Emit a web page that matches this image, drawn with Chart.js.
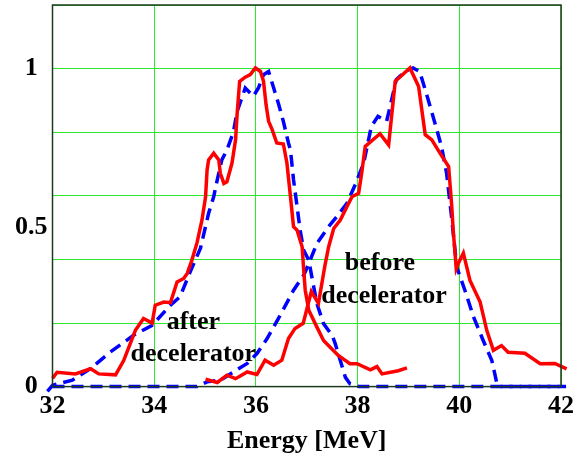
<!DOCTYPE html>
<html>
<head>
<meta charset="utf-8">
<script src="https://cdn.jsdelivr.net/npm/chart.js@4"></script>
<style>
  html, body { margin: 0; padding: 0; background: #fff; }
  #wrap { width: 578px; height: 457px; }
</style>
</head>
<body>
<div id="wrap"><canvas id="energyChart" width="578" height="457"></canvas></div>
<script>
// Datos (Energia en MeV, intensidad normalizada)
const afterRedX = [32.0, 32.09, 32.45, 32.75, 32.91, 33.24, 33.40, 33.63, 33.79, 33.96, 34.02, 34.19, 34.32, 34.45, 34.58, 34.65, 34.74, 34.84, 34.94, 35.01, 35.04, 35.07, 35.17, 35.27, 35.30, 35.37, 35.43, 35.53, 35.60, 35.63, 35.68, 35.79, 35.89, 35.99, 36.09, 36.15, 36.20, 36.25, 36.32, 36.41, 36.54, 36.61, 36.68, 36.74, 36.81, 36.91, 36.94, 36.97, 37.04, 37.20, 37.33, 37.46, 37.62, 37.85, 37.99, 38.25, 38.38, 38.48, 38.80, 38.97];
const afterRedY = [0.026, 0.045, 0.040, 0.056, 0.040, 0.037, 0.082, 0.177, 0.214, 0.200, 0.256, 0.266, 0.264, 0.329, 0.340, 0.356, 0.397, 0.451, 0.524, 0.597, 0.681, 0.713, 0.734, 0.713, 0.671, 0.639, 0.644, 0.703, 0.776, 0.855, 0.960, 0.973, 0.981, 1.002, 0.991, 0.960, 0.886, 0.834, 0.808, 0.766, 0.763, 0.703, 0.597, 0.503, 0.492, 0.439, 0.366, 0.303, 0.240, 0.187, 0.145, 0.124, 0.098, 0.072, 0.072, 0.053, 0.063, 0.040, 0.050, 0.059];

const afterBlueX = [31.9, 32.0, 32.39, 32.75, 33.14, 33.60, 33.96, 34.32, 34.51, 34.71, 34.91, 35.07, 35.17, 35.24, 35.33, 35.43, 35.56, 35.63, 35.79, 35.95, 36.05, 36.15, 36.25, 36.35, 36.45, 36.54, 36.64, 36.68, 36.74, 36.81, 36.87, 36.94, 37.04, 37.10, 37.20, 37.33, 37.50, 37.56, 37.66, 37.76, 37.85, 38.02, 42.0];
const afterBlueY = [-0.015, 0.004, 0.020, 0.057, 0.109, 0.162, 0.193, 0.256, 0.283, 0.362, 0.435, 0.545, 0.597, 0.650, 0.713, 0.744, 0.802, 0.865, 0.939, 0.913, 0.939, 0.981, 0.991, 0.939, 0.886, 0.834, 0.766, 0.744, 0.650, 0.566, 0.492, 0.429, 0.397, 0.345, 0.261, 0.198, 0.161, 0.135, 0.082, 0.029, 0.009, 0.0, 0.0];

const beforeRedX = [35.01, 35.24, 35.43, 35.60, 35.83, 36.02, 36.18, 36.35, 36.51, 36.64, 36.77, 36.93, 37.09, 37.23, 37.36, 37.43, 37.53, 37.66, 37.79, 37.89, 38.02, 38.08, 38.15, 38.44, 38.61, 38.74, 39.03, 39.20, 39.33, 39.46, 39.62, 39.79, 39.85, 39.88, 39.94, 39.98, 40.08, 40.21, 40.41, 40.54, 40.67, 40.83, 40.96, 41.29, 41.59, 41.88, 42.11, 42.14];
const beforeRedY = [0.023, 0.013, 0.036, 0.025, 0.046, 0.038, 0.083, 0.067, 0.083, 0.151, 0.183, 0.199, 0.299, 0.262, 0.383, 0.439, 0.497, 0.524, 0.566, 0.597, 0.608, 0.671, 0.755, 0.795, 0.760, 0.960, 1.002, 0.944, 0.792, 0.776, 0.734, 0.692, 0.571, 0.492, 0.371, 0.387, 0.420, 0.334, 0.266, 0.177, 0.114, 0.129, 0.108, 0.105, 0.072, 0.073, 0.056, -0.015];

const beforeBlueX = [32.0, 34.84, 35.04, 35.30, 35.56, 35.83, 36.02, 36.22, 36.48, 36.74, 36.94, 37.04, 37.20, 37.43, 37.59, 37.79, 37.95, 38.12, 38.27, 38.40, 38.57, 38.67, 38.76, 38.93, 39.09, 39.22, 39.35, 39.52, 39.65, 39.75, 39.84, 39.95, 40.11, 40.28, 40.47, 40.64, 40.74, 40.80, 42.10, 42.13];
const beforeBlueY = [0.0, 0.0, 0.015, 0.020, 0.046, 0.073, 0.104, 0.151, 0.225, 0.303, 0.350, 0.387, 0.450, 0.503, 0.534, 0.576, 0.634, 0.703, 0.818, 0.850, 0.834, 0.902, 0.965, 0.991, 1.002, 0.991, 0.923, 0.829, 0.755, 0.671, 0.545, 0.376, 0.303, 0.219, 0.145, 0.082, 0.009, 0.0, 0.0, -0.025];

// Ejes
const xTicks = [32, 34, 36, 38, 40, 42];
const yGridLines = [0, 0.2, 0.4, 0.5, 0.6, 0.8, 1, 1.2];
const yLabels = [0, 0.5, 1];

// Etiquetas de texto dentro del grafico
const notes = [
  {text: 'after', x: 34.77, y: 0.202},
  {text: 'decelerator', x: 34.77, y: 0.101},
  {text: 'before', x: 38.44, y: 0.388},
  {text: 'decelerator', x: 38.52, y: 0.284}
];

const FONT = 'bold 26px "Liberation Serif", "Times New Roman", serif';
const GRID = '#2ee62e';

function toPoints(xs, ys) {
  return xs.map((x, i) => ({x: x, y: ys[i]}));
}

// Marco y textos
const framePlugin = {
  id: 'frame',
  afterDatasetsDraw(chart) {
    const {ctx, chartArea, scales} = chart;
    ctx.save();
    ctx.strokeStyle = '#1e3a1e';
    ctx.lineWidth = 1.5;
    ctx.strokeRect(chartArea.left, chartArea.top, chartArea.right - chartArea.left, chartArea.bottom - chartArea.top);
    ctx.fillStyle = '#000';
    ctx.font = FONT;
    ctx.textAlign = 'center';
    ctx.textBaseline = 'middle';
    notes.forEach(n => {
      ctx.fillText(n.text, scales.x.getPixelForValue(n.x), scales.y.getPixelForValue(n.y));
    });
    ctx.restore();
  }
};

const ctx = document.getElementById('energyChart');
const myChart = new Chart(ctx, {
  type: 'line',
  data: {
    datasets: [
      {
        label: 'after (red)',
        data: toPoints(afterRedX, afterRedY),
        borderColor: '#ff0000',
        borderWidth: 3.5,
        order: 1
      },
      {
        label: 'before (red)',
        data: toPoints(beforeRedX, beforeRedY),
        borderColor: '#ff0000',
        borderWidth: 3.5,
        order: 2
      },
      {
        label: 'after (blue)',
        data: toPoints(afterBlueX, afterBlueY),
        borderColor: '#0000ff',
        borderWidth: 3.5,
        borderDash: [12, 7],
        order: 3
      },
      {
        label: 'before (blue)',
        data: toPoints(beforeBlueX, beforeBlueY),
        borderColor: '#0000ff',
        borderWidth: 3.5,
        borderDash: [12, 7],
        order: 4
      }
    ]
  },
  options: {
    responsive: false,
    animation: false,
    layout: {padding: {left: 10, right: 17, top: 5, bottom: 0}},
    elements: {
      point: {radius: 0},
      line: {tension: 0, fill: false, borderCapStyle: 'butt'}
    },
    datasets: {line: {clip: false}},
    plugins: {
      legend: {display: false},
      tooltip: {enabled: false}
    },
    scales: {
      x: {
        type: 'linear',
        min: 32,
        max: 42,
        afterBuildTicks: (axis) => { axis.ticks = xTicks.map(v => ({value: v})); },
        afterFit: (axis) => { axis.paddingLeft = 0; axis.paddingRight = 0; },
        grid: {color: GRID, lineWidth: 1, drawTicks: false},
        border: {display: false},
        ticks: {color: '#000', font: {family: '"Liberation Serif", serif', size: 26, weight: 'bold'}, padding: 4, maxRotation: 0},
        title: {display: true, text: 'Energy [MeV]', color: '#000', font: {family: '"Liberation Serif", serif', size: 26, weight: 'bold'}, padding: {top: 0, bottom: 0}}
      },
      y: {
        type: 'linear',
        min: 0,
        max: 1.2,
        afterBuildTicks: (axis) => { axis.ticks = yGridLines.map(v => ({value: v})); },
        afterFit: (axis) => { axis.paddingTop = 0; axis.paddingBottom = 0; },
        grid: {
          color: (c) => (c.tick && c.tick.value === 0.5) ? 'rgba(0,0,0,0)' : GRID,
          lineWidth: 1,
          drawTicks: false
        },
        border: {display: false},
        ticks: {
          color: '#000',
          font: {family: '"Liberation Serif", serif', size: 26, weight: 'bold'},
          padding: 5,
          crossAlign: 'center',
          callback: (v) => yLabels.includes(v) ? String(v) : ''
        }
      }
    }
  },
  plugins: [framePlugin]
});
</script>
</body>
</html>
